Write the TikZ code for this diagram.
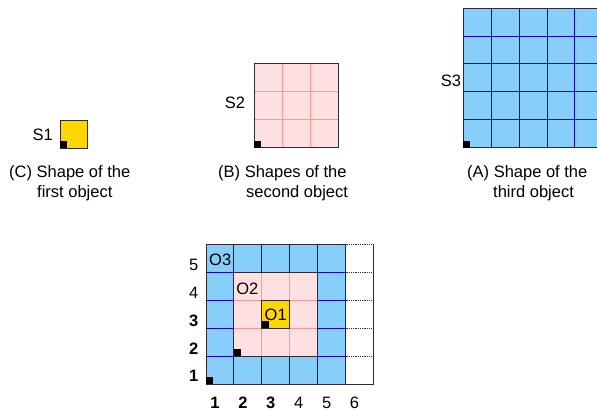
\documentclass[tikz,border=0pt]{standalone}
\usepackage{fontspec}
\setmainfont{Liberation Sans}
\definecolor{bluefill}{RGB}{135,206,250}
\definecolor{blueline}{RGB}{0,0,205}
\definecolor{pinkfill}{RGB}{255,224,224}
\definecolor{pinkline}{RGB}{255,150,150}
\definecolor{goldfill}{RGB}{255,214,0}
\definecolor{framecol}{RGB}{45,40,50}
\begin{document}
\begin{tikzpicture}[x=1pt,y=-1pt,
  font=\fontsize{16.5}{20}\selectfont,
  lbl/.style={inner sep=0pt},
  captxt/.style={inner sep=0pt, anchor=base west},
  frame/.style={draw=framecol, line width=1pt},
  bgrid/.style={draw=blueline, line width=1pt},
  pgrid/.style={draw=pinkline, line width=1pt},
  dotline/.style={draw=framecol, line width=0.8pt, densely dotted},
  corner/.style={fill=black}]
\useasboundingbox (0,0) rectangle (597,411);
\clip (0,0) rectangle (597,411);
\def\cs{27.9}

% ---------- S1 ----------
\fill[goldfill] (60,120.4) rectangle (87.9,148.3);
\draw[frame] (60,120.4) rectangle (87.9,148.3);
\fill[corner] (60,148.3) rectangle ++(7,-7);
\node[lbl] (s1) at (42.7,134.7) {S1};
\node[captxt] (c1a) at (9,177.5) {(C) Shape of the};
\node[captxt] (c1b) at (37,197.5) {first object};

% ---------- S2 ----------
\fill[pinkfill] (254.3,64) rectangle ++(3*\cs,83.7);
\foreach \i in {1,2} {
  \draw[pgrid] ({254.3+\i*\cs},64) -- ++(0,83.7);
  \draw[pgrid] (254.3,{64+\i*\cs}) -- ++(83.7,0);
}
\draw[frame] (254.3,64) rectangle ++(83.7,83.7);
\fill[corner] (254.3,147.7) rectangle ++(7,-7);
\node[lbl] (s2) at (235,103) {S2};
\node[captxt] (c2a) at (218,177.5) {(B) Shapes of the};
\node[captxt] (c2b) at (246,197.5) {second object};

% ---------- S3 ----------
\fill[bluefill] (463.3,8.2) rectangle ++(5*\cs,139.5);
\foreach \i in {1,...,4} {
  \draw[bgrid] ({463.3+\i*\cs},8.2) -- ++(0,139.5);
  \draw[bgrid] (463.3,{8.2+\i*\cs}) -- ++(139.5,0);
}
\draw[frame] (463.3,8.2) rectangle ++(139.5,139.5);
\fill[corner] (463.3,147.7) rectangle ++(7,-7);
\node[lbl] (s3) at (451,80.5) {S3};
\node[captxt] (c3a) at (467,177.5) {(A) Shape of the};
\node[captxt] (c3b) at (493,197.5) {third object};

% ---------- Combined grid ----------
% O3 (blue)
\fill[bluefill] (206,244.8) rectangle ++(5*\cs,139.5);
\foreach \i in {1,...,4} {
  \draw[bgrid] ({206+\i*\cs},244.8) -- ++(0,139.5);
  \draw[bgrid] (206,{244.8+\i*\cs}) -- ++(139.5,0);
}
% column 6 (empty)
\foreach \i in {1,...,4} {
  \draw[dotline] (345.5,{244.8+\i*\cs}) -- ++(\cs,0);
}
\draw[dotline] (345.5,244.8) -- (373.4,244.8);
\draw[frame] (373.4,244.8) -- (373.4,384.3) -- (345.5,384.3);
\draw[frame] (206,244.8) rectangle ++(139.5,139.5);
% O2 (pink)
\fill[pinkfill] (233.9,272.7) rectangle ++(3*\cs,83.7);
\foreach \i in {1,2} {
  \draw[pgrid] ({233.9+\i*\cs},272.7) -- ++(0,83.7);
  \draw[pgrid] (233.9,{272.7+\i*\cs}) -- ++(83.7,0);
}
\draw[frame] (233.9,272.7) rectangle ++(83.7,83.7);
% O1 (gold)
\fill[goldfill] (261.8,300.6) rectangle ++(\cs,\cs);
\draw[frame] (261.8,300.6) rectangle ++(\cs,\cs);
% corners
\fill[corner] (206,384.3) rectangle ++(7,-7);
\fill[corner] (233.9,356.4) rectangle ++(7,-7);
\fill[corner] (261.8,328.5) rectangle ++(7,-7);
% labels
\node[lbl] (o3) at (220.2,260.3) {O3};
\node[lbl] (o2) at (247.3,289) {O2};
\node[lbl] (o1) at (275.7,315.3) {O1};
% row numbers
\node[lbl] (r5) at (193.7,264.7) {5};
\node[lbl] (r4) at (193.7,292.6) {4};
\node[lbl] (r3) at (193.7,320.5) {\bfseries 3};
\node[lbl] (r2) at (193.7,348.4) {\bfseries 2};
\node[lbl] (r1) at (193.7,376.3) {\bfseries 1};
% column numbers
\node[lbl] (k1) at (215,402.6) {\bfseries 1};
\node[lbl] (k2) at (242.9,402.6) {\bfseries 2};
\node[lbl] (k3) at (270.8,402.6) {\bfseries 3};
\node[lbl] (k4) at (298.7,402.6) {4};
\node[lbl] (k5) at (326.6,402.6) {5};
\node[lbl] (k6) at (354.5,402.6) {6};
\end{tikzpicture}
\end{document}
